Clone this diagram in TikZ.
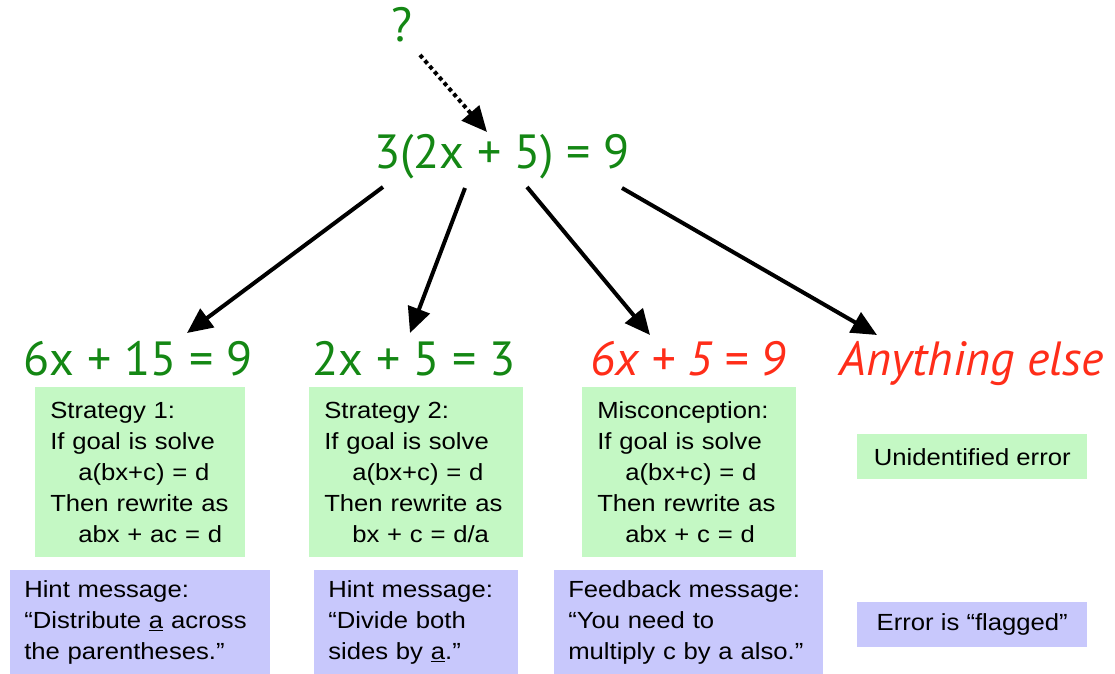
\documentclass[tikz,border=0pt]{standalone}
\usepackage{fontspec}
\setmainfont{Liberation Sans}
\newfontfamily\eqfont{PT Sans}
\newfontfamily\boxfont[FakeStretch=1.1]{Liberation Sans}
\usetikzlibrary{arrows.meta,calc}
\definecolor{eqgreen}{RGB}{20,135,20}
\definecolor{eqred}{RGB}{255,45,25}
\definecolor{boxgreen}{RGB}{196,248,196}
\definecolor{boxblue}{RGB}{200,200,252}

\begin{document}
\begin{tikzpicture}[x=0.75pt,y=-0.75pt,
  eq/.style={font=\eqfont\fontsize{36}{40}\selectfont,text=eqgreen,inner sep=0pt,anchor=base},
  wrong/.style={eq,text=eqred,font=\eqfont\fontsize{36}{40}\selectfont\itshape},
  greenbox/.style={fill=boxgreen,anchor=north west,align=left,inner xsep=11.25pt,inner ysep=0pt,font=\boxfont\fontsize{17.5}{23.25}\selectfont},
  bluebox/.style={greenbox,fill=boxblue,inner xsep=10.5pt},
  tagbox/.style={fill=#1,anchor=north west,minimum width=172.5pt,minimum height=33.75pt,inner sep=0pt,font=\boxfont\fontsize{17.5}{23.25}\selectfont},
  arr/.style={-{Triangle[length=19pt,width=17pt]},line width=3pt},
  guess/.style={arr,dash pattern=on 3pt off 2.5pt}]
\useasboundingbox (0,0) rectangle (1115,674);
\node[eq] (q) at (402,42) {?};
\node[eq] (top) at (502,168) {3(2x + 5) = 9};
\node[eq] (e1) at (138,375) {6x + 15 = 9};
\node[eq] (e2) at (414,375) {2x + 5 = 3};
\node[wrong] (e3) at (688,375) {6x + 5 = 9};
\node[wrong] (e4) at (972,375) {Anything else};
\node[greenbox,text width=135pt,minimum height=127.5pt] (s1) at (35,387) {Strategy 1:\\If goal is solve\\\hspace*{21pt}a(bx+c) = d\\Then rewrite as\\\hspace*{21pt}abx + ac = d};
\node[greenbox,text width=137.5pt,minimum height=127.5pt] (s2) at (309,387) {Strategy 2:\\If goal is solve\\\hspace*{21pt}a(bx+c) = d\\Then rewrite as\\\hspace*{21pt}bx + c = d/a};
\node[greenbox,text width=137.5pt,minimum height=127.5pt] (s3) at (582,387) {Misconception:\\If goal is solve\\\hspace*{21pt}a(bx+c) = d\\Then rewrite as\\\hspace*{21pt}abx + c = d};
\node[tagbox=boxgreen] (u) at (857,434) {Unidentified error};
\node[bluebox,text width=174pt,minimum height=78pt] (h1) at (10,570) {Hint message:\\“Distribute \underline{a} across\\the parentheses.”};
\node[bluebox,text width=132pt,minimum height=78pt] (h2) at (314,570) {Hint message:\\“Divide both\\sides by \underline{a}.”};
\node[bluebox,text width=180.75pt,minimum height=78pt] (h3) at (554,570) {Feedback message:\\“You need to\\multiply c by a also.”};
\node[tagbox=boxblue] (f) at (857,602) {Error is “flagged”};
\draw[guess] ($(q.base)+(18,13)$) -- ($(top.base)+(-15,-36)$);
\draw[arr] ($(top.base)+(-119,19)$) -- ($(e1.base)+(49,-42)$);
\draw[arr] ($(top.base)+(-37,20)$) -- ($(e2.base)+(-4,-42)$);
\draw[arr] ($(top.base)+(25,19)$) -- ($(e3.base)+(-38,-40)$);
\draw[arr] ($(top.base)+(120,20)$) -- ($(e4.base)+(-95,-40)$);
\end{tikzpicture}
\end{document}
